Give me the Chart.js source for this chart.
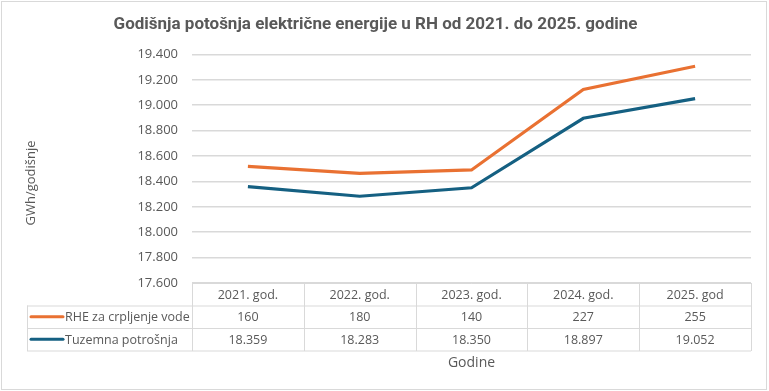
<!DOCTYPE html>
<html>
<head>
<meta charset="utf-8">
<script src="https://cdn.jsdelivr.net/npm/chart.js@4"></script>
<style>
  html, body { margin: 0; padding: 0; background: #fff; }
  #wrap { position: relative; width: 769px; height: 391px; }
</style>
</head>
<body>
<div id="wrap"><canvas id="energyChart" width="769" height="391"></canvas></div>
<script>
// data
const years = ['2021. god.', '2022. god.', '2023. god.', '2024. god.', '2025. god'];
const rheValues = [160, 180, 140, 227, 255];
const domesticValues = [18359, 18283, 18350, 18897, 19052];
const yTicks = [17600, 17800, 18000, 18200, 18400, 18600, 18800, 19000, 19200, 19400];

const orange = '#E97132';
const blue = '#156082';
const grey = '#595959';
const lineGrey = '#d9d9d9';
const font = "'Open Sans', 'Noto Sans', sans-serif";

// thousands with a dot, like the Croatian Excel format
const fmt = v => String(v).replace(/\B(?=(\d{3})+(?!\d))/g, '.');

// lines are stacked: orange = domestic + pumping
const stacked = domesticValues.map((v, i) => v + rheValues[i]);

const tablePlugin = {
    id: 'dataTable',
    afterDraw(chart) {
        const { ctx, chartArea, scales } = chart;
        const x = scales.x;
        const colW = (chartArea.right - chartArea.left) / years.length;
        const top = chartArea.bottom;
        const rowH = 22.5;
        const labelLeft = 27;

        ctx.save();
        ctx.strokeStyle = lineGrey;
        ctx.lineWidth = 1;

        // horizontal lines
        const hline = (y, x0) => {
            ctx.beginPath();
            ctx.moveTo(x0, y);
            ctx.lineTo(chartArea.right, y);
            ctx.stroke();
        };
        hline(top + 0.5, chartArea.left);
        hline(top + rowH + 0.5, labelLeft);
        hline(top + rowH * 2 + 0.5, labelLeft);
        hline(top + rowH * 3 + 0.5, labelLeft);

        // vertical lines
        const vline = (xx, y0, y1) => {
            ctx.beginPath();
            ctx.moveTo(Math.round(xx) + 0.5, y0);
            ctx.lineTo(Math.round(xx) + 0.5, y1);
            ctx.stroke();
        };
        vline(labelLeft, top + rowH, top + rowH * 3 + 0.5);
        for (let i = 0; i <= years.length; i++) {
            vline(chartArea.left + colW * i, top, top + rowH * 3 + 0.5);
        }

        ctx.fillStyle = grey;
        ctx.font = '12.5px ' + font;
        ctx.textAlign = 'center';
        ctx.textBaseline = 'middle';
        years.forEach((label, i) => {
            const cx = x.getPixelForValue(i);
            ctx.fillText(label, cx, top + rowH / 2 + 1);
            ctx.fillText(fmt(rheValues[i]), cx, top + rowH * 1.5 + 1);
            ctx.fillText(fmt(domesticValues[i]), cx, top + rowH * 2.5 + 1);
        });

        // legend keys in the row headers
        const rows = [
            { label: 'RHE za crpljenje vode', color: orange },
            { label: 'Tuzemna potrošnja', color: blue }
        ];
        rows.forEach((r, i) => {
            const cy = top + rowH * (1.5 + i);
            ctx.strokeStyle = r.color;
            ctx.lineWidth = 3;
            ctx.lineCap = 'round';
            ctx.beginPath();
            ctx.moveTo(31, cy);
            ctx.lineTo(63, cy);
            ctx.stroke();
            ctx.textAlign = 'left';
            ctx.fillText(r.label, 65, cy + 1);
        });

        // axis titles
        ctx.textAlign = 'center';
        ctx.font = '14px ' + font;
        ctx.fillText('Godine', (chartArea.left + chartArea.right) / 2, top + rowH * 3 + 13);
        ctx.translate(31, 183);
        ctx.rotate(-Math.PI / 2);
        ctx.font = '13px ' + font;
        ctx.fillText('GWh/godišnje', 0, 0);
        ctx.restore();

        // outer frame
        ctx.save();
        ctx.strokeStyle = lineGrey;
        ctx.lineWidth = 1;
        ctx.strokeRect(1.5, 1.5, chart.width - 4, chart.height - 3);
        ctx.restore();
    }
};

new Chart(document.getElementById('energyChart'), {
    type: 'line',
    data: {
        labels: years,
        datasets: [
            {
                label: 'RHE za crpljenje vode',
                data: stacked,
                borderColor: orange,
                borderWidth: 3.2,
                pointRadius: 0,
                tension: 0
            },
            {
                label: 'Tuzemna potrošnja',
                data: domesticValues,
                borderColor: blue,
                borderWidth: 3.2,
                pointRadius: 0,
                tension: 0
            }
        ]
    },
    options: {
        responsive: false,
        animation: false,
        layout: { padding: { top: 0, right: 18, bottom: 108, left: 0 } },
        plugins: {
            legend: { display: false },
            tooltip: { enabled: false },
            title: {
                display: true,
                text: 'Godišnja potošnja električne energije u RH od 2021. do 2025. godine',
                color: grey,
                font: { family: "'Roboto', sans-serif", size: 17, weight: 'bold' },
                padding: { top: 15, bottom: 19 },
                position: 'top',
                fullSize: true
            }
        },
        scales: {
            x: {
                display: false,
                offset: true
            },
            y: {
                min: 17600,
                max: 19400,
                afterFit(scale) { scale.width = 192; },
                afterBuildTicks(scale) { scale.ticks = yTicks.map(v => ({ value: v })); },
                border: { display: false },
                grid: { color: lineGrey, lineWidth: 1.5, drawTicks: false },
                ticks: {
                    color: grey,
                    padding: 14,
                    font: { family: font, size: 13 },
                    callback: v => fmt(v)
                }
            }
        }
    },
    plugins: [tablePlugin]
});
</script>
</body>
</html>
